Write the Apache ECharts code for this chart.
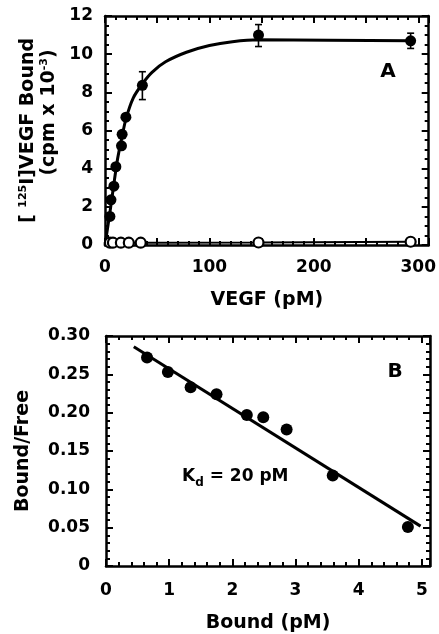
<!DOCTYPE html>
<html><head><meta charset="utf-8">
<script src="https://cdn.jsdelivr.net/npm/echarts@6/dist/echarts.min.js"></script>
<style>html,body{margin:0;padding:0;background:#fff}#c{width:439px;height:634px}</style>
</head><body><div id="c"></div>
<script>
// Panel A: saturation binding
const vegfConc = [4.7, 5.7, 8.5, 10.4, 15.8, 16.4, 20, 35.8, 147, 292.7];
const totalBound = [1.5, 2.37, 3.08, 4.1, 5.2, 5.8, 6.7, 8.37, 11.0, 10.7];
const errConc = [35.8, 147, 292.7];
const errLow = [7.62, 10.4, 10.3];
const errHigh = [9.08, 11.55, 11.1];
const nonspecConc = [4.7, 7.6, 15.2, 22.8, 34.2, 147, 292.7];
const nonspecBound = [0.12, 0.12, 0.12, 0.12, 0.12, 0.13, 0.17];
const fitConc = [0, 4.7, 8.5, 12, 16, 20, 27, 35.8, 45, 58, 78, 100, 122, 147, 292.7];
const fitBound = [0, 1.7, 3.2, 4.5, 5.6, 6.6, 7.7, 8.45, 9.05, 9.6, 10.1, 10.45, 10.65, 10.75, 10.7];
// Panel B: Scatchard
const boundPM = [0.65, 0.98, 1.34, 1.75, 2.23, 2.49, 2.86, 3.59, 4.78];
const boundFree = [0.272, 0.253, 0.233, 0.224, 0.197, 0.194, 0.178, 0.118, 0.051];
const regX = [0.44, 4.98];
const regY = [0.286, 0.052];

const FF = '"DejaVu Sans", "Liberation Sans", Arial, sans-serif';
const zip = (a, b) => a.map((v, i) => [v, b[i]]);
const ts = () => ({color: '#000', width: 2, opacity: 1});
function mkAxis(grid, pos, min, max, interval, split, show, extra) {
  return Object.assign({
    type: 'value', gridIndex: grid, position: pos, min: min, max: max, interval: interval,
    axisLine: {show: true, onZero: false, lineStyle: {color: '#000', width: 2.5}},
    axisTick: {show: true, inside: true, length: 7, lineStyle: ts()},
    minorTick: {show: true, splitNumber: split, length: 4, lineStyle: ts()},
    splitLine: {show: false}, minorSplitLine: {show: false},
    axisLabel: {show: show, color: '#000', fontSize: 17, fontWeight: 'bold', fontFamily: FF}
  }, extra || {});
}
const lab = (margin, fmt) => ({show: true, margin: margin, color: '#000', fontSize: 17, fontWeight: 'bold', fontFamily: FF, formatter: fmt});
const titleStyle = {color: '#000', fontSize: 19, fontWeight: 'bold', fontFamily: FF};
const option = {
  backgroundColor: '#fff',
  animation: false,
  grid: [
    {left: 105, top: 16, width: 326, height: 229},
    {left: 106, top: 336, width: 324, height: 231}
  ],
  xAxis: [
    mkAxis(0, 'bottom', 0, 310, 50, 5, true, {
      axisLabel: lab(14, v => (v % 100 === 0 && v <= 300) ? String(v) : ''),
      name: 'VEGF (pM)', nameLocation: 'middle', nameGap: 46, nameTextStyle: titleStyle
    }),
    mkAxis(0, 'top', 0, 310, 50, 5, false),
    mkAxis(1, 'bottom', 0, 5.13, 1, 5, true, {
      axisLabel: lab(16, v => (Math.abs(v - Math.round(v)) < 1e-6 && v <= 5) ? String(Math.round(v)) : ''),
      name: 'Bound (pM)', nameLocation: 'middle', nameGap: 48, nameTextStyle: titleStyle
    }),
    mkAxis(1, 'top', 0, 5.13, 1, 5, false)
  ],
  yAxis: [
    mkAxis(0, 'left', 0, 12, 2, 4, true, {
      axisLabel: lab(12, v => String(v)),
      name: '{t|[ }{s|125}{t|I]VEGF Bound}\n{p|(cpm x 10}{s|-3}{t|)}',
      nameLocation: 'middle', nameRotate: 90, nameGap: 39,
      nameTextStyle: {color: '#000', rich: {
        t: {fontSize: 19, fontWeight: 'bold', fontFamily: FF, lineHeight: 21, color: '#000'},
        p: {fontSize: 19, fontWeight: 'bold', fontFamily: FF, lineHeight: 21, color: '#000', padding: [0, 0, 0, 36]},
        s: {fontSize: 11, fontWeight: 'bold', fontFamily: FF, lineHeight: 10, verticalAlign: 'top', color: '#000'}
      }}
    }),
    mkAxis(0, 'right', 0, 12, 2, 4, false),
    mkAxis(1, 'left', 0, 0.3, 0.05, 5, true, {
      axisLabel: lab(16, v => v === 0 ? '0' : v.toFixed(2)),
      name: 'Bound/Free', nameLocation: 'middle', nameRotate: 90, nameGap: 73, nameTextStyle: titleStyle
    }),
    mkAxis(1, 'right', 0, 0.3, 0.05, 5, false)
  ],
  series: [
    {type: 'line', xAxisIndex: 0, yAxisIndex: 0, data: zip(fitConc, fitBound), smooth: 0.25,
      symbol: 'none', lineStyle: {color: '#000', width: 3}, z: 3},
    {type: 'line', xAxisIndex: 0, yAxisIndex: 0, data: zip(nonspecConc, nonspecBound),
      symbol: 'none', lineStyle: {color: '#000', width: 2}, z: 3},
    {type: 'custom', xAxisIndex: 0, yAxisIndex: 0, z: 4,
      data: errConc.map((x, i) => [x, errLow[i], errHigh[i]]),
      encode: {x: 0, y: [1, 2]},
      renderItem: function (params, api) {
        const lo = api.coord([api.value(0), api.value(1)]);
        const hi = api.coord([api.value(0), api.value(2)]);
        const w = 3.5, st = {stroke: '#000', lineWidth: 1.6};
        return {type: 'group', children: [
          {type: 'line', shape: {x1: lo[0], y1: lo[1], x2: hi[0], y2: hi[1]}, style: st},
          {type: 'line', shape: {x1: lo[0] - w, y1: lo[1], x2: lo[0] + w, y2: lo[1]}, style: st},
          {type: 'line', shape: {x1: hi[0] - w, y1: hi[1], x2: hi[0] + w, y2: hi[1]}, style: st}
        ]};
      }},
    {type: 'scatter', xAxisIndex: 0, yAxisIndex: 0, data: zip(nonspecConc, nonspecBound),
      symbol: 'circle', symbolSize: 10, clip: false,
      itemStyle: {color: '#fff', borderColor: '#000', borderWidth: 2.2, opacity: 1}, z: 5},
    {type: 'scatter', xAxisIndex: 0, yAxisIndex: 0, data: zip(vegfConc, totalBound),
      symbol: 'circle', symbolSize: 11, clip: false, itemStyle: {color: '#000', opacity: 1}, z: 6},
    {type: 'line', xAxisIndex: 2, yAxisIndex: 2, data: zip(regX, regY),
      symbol: 'none', lineStyle: {color: '#000', width: 3}, z: 3},
    {type: 'scatter', xAxisIndex: 2, yAxisIndex: 2, data: zip(boundPM, boundFree),
      symbol: 'circle', symbolSize: 12, clip: false, itemStyle: {color: '#000', opacity: 1}, z: 6}
  ],
  graphic: [
    {type: 'text', x: 388, y: 72, z: 10, style: {text: 'A', x: 0, y: 0, align: 'center', verticalAlign: 'middle',
      font: 'bold 20px ' + FF, fill: '#000'}},
    {type: 'text', x: 395, y: 372, z: 10, style: {text: 'B', x: 0, y: 0, align: 'center', verticalAlign: 'middle',
      font: 'bold 20px ' + FF, fill: '#000'}},
    {type: 'text', x: 182, y: 477, z: 10, style: {
      text: '{k|K}{d|d}{k| = 20 pM}', x: 0, y: 0, align: 'left', verticalAlign: 'middle',
      rich: {
        k: {fontSize: 17, fontWeight: 'bold', fontFamily: FF, fill: '#000', lineHeight: 24, verticalAlign: 'middle'},
        d: {fontSize: 12, fontWeight: 'bold', fontFamily: FF, fill: '#000', lineHeight: 10, verticalAlign: 'bottom'}
      }}}
  ]
};
const chart = echarts.init(document.getElementById('c'), null, {renderer: 'canvas'});
chart.setOption(option);
</script>
</body></html>
